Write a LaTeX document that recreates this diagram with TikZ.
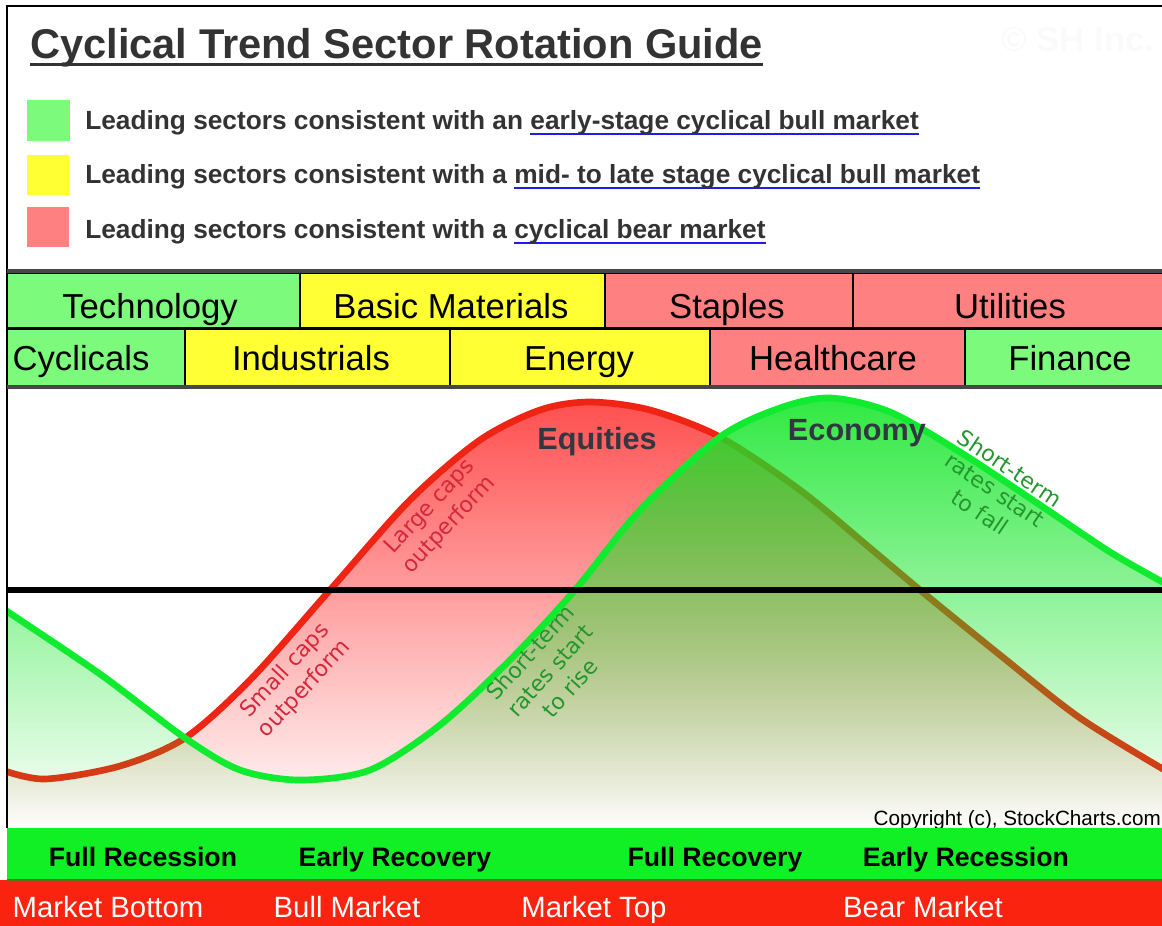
\documentclass[tikz,border=0pt]{standalone}
\usepackage{fontspec}
\setmainfont{Liberation Sans}
\newfontfamily\notefont{DejaVu Sans}
\usepackage{xcolor}
\usepackage{tikz}
\usetikzlibrary{positioning}
\usetikzlibrary{fadings}

\definecolor{textgray}{RGB}{51,51,51}
\definecolor{curvegray}{RGB}{50,55,65}
\definecolor{ulblue}{RGB}{30,30,235}
\definecolor{secgreen}{RGB}{124,250,124}
\definecolor{secyellow}{RGB}{255,255,51}
\definecolor{secpink}{RGB}{255,128,128}
\definecolor{bandgreen}{RGB}{16,240,36}
\definecolor{bandred}{RGB}{250,35,16}
\definecolor{curvered}{RGB}{240,36,20}
\definecolor{curvegreen}{RGB}{16,235,48}
\definecolor{fillred}{RGB}{255,60,60}
\definecolor{fillgreen}{RGB}{20,230,40}
\definecolor{notered}{RGB}{214,40,58}
\definecolor{notegreen}{RGB}{36,150,46}

\tikzfading[name=redfade, top color=transparent!10, middle color=transparent!76, bottom color=transparent!100]
\tikzfading[name=greenfade, top color=transparent!12, middle color=transparent!84, bottom color=transparent!100]

\newcommand{\blueul}[1]{\setbox0\hbox{#1}\rlap{\color{ulblue}\rule[-4.5pt]{\wd0}{1.5pt}}\box0}
\newcommand{\equitycurve}{plot[smooth] coordinates {(2,770) (45,779) (120,766) (185,738) (250,680) (330,590) (410,500) (480,440) (540,410) (590,402) (650,410) (720,437) (800,490) (870,548) (920,590) (1000,655) (1080,718) (1168,772)}}
\newcommand{\economycurve}{plot[smooth] coordinates {(2,608) (100,674) (185,738) (240,770) (300,780) (370,770) (440,725) (510,660) (575,590) (640,510) (720,437) (780,408) (830,398) (890,412) (960,452) (1040,505) (1110,552) (1168,585)}}

\begin{document}
\begin{tikzpicture}[x=0.75pt, y=-0.75pt,
    sectorbox/.style={draw=black, line width=1.4pt},
    sectorlabel/.style={anchor=base, inner sep=0, font=\fontsize{26}{26}\selectfont},
    phase/.style={anchor=base, inner sep=0, font=\bfseries\fontsize{20}{20}\selectfont},
    market/.style={anchor=base, inner sep=0, text=white, font=\fontsize{22}{22}\selectfont},
    curvelabel/.style={anchor=base, inner sep=0, text=curvegray, font=\bfseries\fontsize{23}{23}\selectfont},
    note/.style={inner sep=0, align=center, font=\notefont\fontsize{16.5}{20}\selectfont},
    legendtext/.style={anchor=base west, inner sep=0, text=textgray, font=\bfseries\fontsize{19.7}{20}\selectfont}]
    \useasboundingbox (0,0) rectangle (1162,925);

    % frame and title
    \draw[line width=1.5pt] (1170,6) -- (7,6) -- (7,828);
    \node[anchor=base west, inner sep=0, text=textgray, font=\bfseries\fontsize{31.2}{32}\selectfont] (title) at (30,58) {Cyclical Trend Sector Rotation Guide};
    \draw[textgray, line width=2pt] ([yshift=-5pt]title.base west) -- ([yshift=-5pt]title.base east);
    \node[text=black!2, font=\bfseries\fontsize{26}{26}\selectfont] (mark) at (1078,40) {\textcopyright{} SH Inc.};

    % legend
    \fill[secgreen] (27,100) rectangle (70,141);
    \fill[secyellow] (27,155) rectangle (69,195);
    \fill[secpink] (27,207) rectangle (69,247);
    \node[legendtext] (early) at (85,129) {Leading sectors consistent with an \blueul{early-stage cyclical bull market}};
    \node[legendtext] (late) at (85,183) {Leading sectors consistent with a \blueul{mid- to late stage cyclical bull market}};
    \node[legendtext] (bear) at (85,238) {Leading sectors consistent with a \blueul{cyclical bear market}};

    % sector rows
    \draw[sectorbox, fill=secgreen] (7,273) rectangle (300,328);
    \draw[sectorbox, fill=secyellow] (300,273) rectangle (605,328);
    \draw[sectorbox, fill=secpink] (605,273) rectangle (853,328);
    \draw[sectorbox, fill=secpink] (853,273) rectangle (1170,328);
    \draw[sectorbox, fill=secgreen] (7,329) rectangle (185,386);
    \draw[sectorbox, fill=secyellow] (185,329) rectangle (450,386);
    \draw[sectorbox, fill=secyellow] (450,329) rectangle (710,386);
    \draw[sectorbox, fill=secpink] (710,329) rectangle (965,386);
    \draw[sectorbox, fill=secgreen] (965,329) rectangle (1170,386);
    \draw[line width=3pt, black!72] (7,271) -- (1170,271);
    \draw[line width=3pt, black!72] (7,387) -- (1170,387);
    \node[sectorlabel] (tech) at (150,318) {Technology};
    \node[sectorlabel] (basic) at (451,318) {Basic Materials};
    \node[sectorlabel] (staples) at (727,318) {Staples};
    \node[sectorlabel] (util) at (1010,318) {Utilities};
    \node[sectorlabel] (cycl) at (81,370) {Cyclicals};
    \node[sectorlabel] (indus) at (311,370) {Industrials};
    \node[sectorlabel] (energy) at (579,370) {Energy};
    \node[sectorlabel] (health) at (833,370) {Healthcare};
    \node[sectorlabel] (fin) at (1070,370) {Finance};

    % cycle curves
    \begin{scope}
        \clip (8,390) rectangle (1162,828);
        \fill[fillred, path fading=redfade] \equitycurve -- (1168,828) -- (2,828) -- cycle;
        \draw[curvered, line width=5pt] \equitycurve;
        \fill[fillgreen, path fading=greenfade] \economycurve -- (1168,828) -- (2,828) -- cycle;
        \draw[curvegreen, line width=5pt] \economycurve;
    \end{scope}
    \draw[line width=5pt] (7,590) -- (1170,590);
    \node[curvelabel] (equities) at (597,449) {Equities};
    \node[curvelabel] (economy) at (857,440) {Economy};
    \node[note, text=notered, rotate=47] (large) at (440,516) {Large caps\\outperform};
    \node[note, text=notered, rotate=47] (small) at (295,680) {Small caps\\outperform};
    \node[note, text=notegreen, rotate=48] (rise) at (550,670) {Short-term\\rates start\\to rise};
    \node[note, text=notegreen, rotate=-34] (fall) at (995,490) {Short-term\\rates start\\to fall};
    \node[anchor=base east, inner sep=0, font=\fontsize{15.5}{16}\selectfont] (copy) at (1161,825) {Copyright (c), StockCharts.com};

    % bottom bands
    \fill[bandgreen] (7,828) rectangle (1170,880);
    \fill[bandred] (0,880) rectangle (1170,930);
    \draw[line width=0.8pt, black!30!olive] (7,880) -- (1170,880);
    \node[phase] (fullrec) at (143,866) {Full Recession};
    \node[phase] (earlyrec) at (395,866) {Early Recovery};
    \node[phase] (fullrecov) at (715,866) {Full Recovery};
    \node[phase] (earlyrecess) at (966,866) {Early Recession};
    \node[market] (bottom) at (108,917) {Market Bottom};
    \node[market] (bull) at (347,917) {Bull Market};
    \node[market] (top) at (594,917) {Market Top};
    \node[market] (bearmkt) at (923,917) {Bear Market};
\end{tikzpicture}
\end{document}
